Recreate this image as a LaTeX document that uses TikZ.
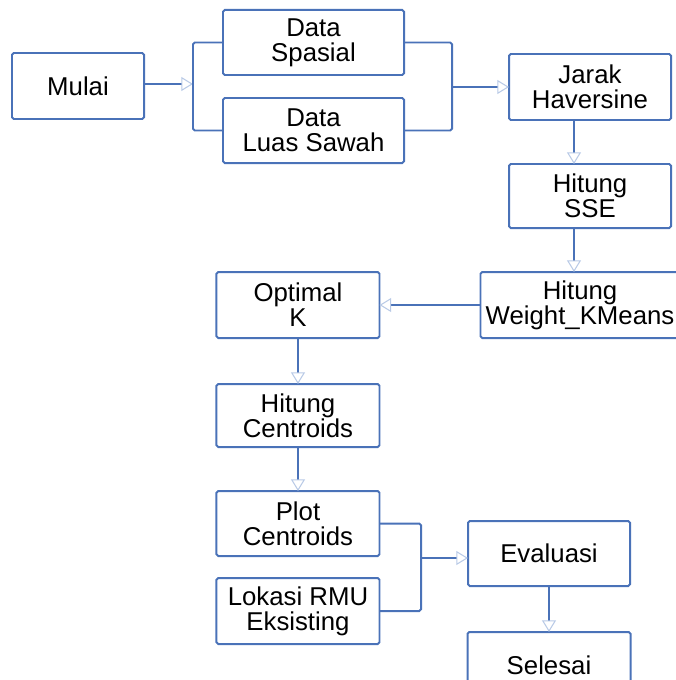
\documentclass[tikz,border=0pt]{standalone}
\usepackage{fontspec}
\setmainfont{Liberation Sans}
\usepackage{xcolor}
\usepackage{tikz}
\usetikzlibrary{arrows.meta,positioning,calc}

\definecolor{flowblue}{HTML}{4A72B8}
\definecolor{tipblue}{HTML}{B9CAE6}

\begin{document}
\begin{tikzpicture}[
    x=0.03cm, y=-0.03cm,
    node distance=1.32cm and 2.64cm,
    stepbox/.style={rectangle, rounded corners=1.5pt, draw=flowblue, line width=1.7pt, outer sep=0pt, align=center, inner xsep=2pt, inner ysep=2pt, font=\fontsize{22}{21.5}\selectfont},
    flowline/.style={draw=flowblue, line width=1.7pt, rounded corners=1.5pt},
    arrow/.style={flowline, -{Triangle[open, length=10pt, width=12pt, line width=0.9pt, color=tipblue]}},
]
\useasboundingbox (0,0) rectangle (675,680);

% Start and input data
\node[stepbox, minimum width=3.96cm, minimum height=1.98cm] (mulai) at (78,86) {Mulai};
\node[stepbox, minimum width=5.43cm, minimum height=1.95cm] (spasial) at (313.5,42.5) {Data\\Spasial};
\node[stepbox, minimum width=5.43cm, minimum height=1.95cm, below=0.69cm of spasial] (luas) {Data\\Luas Sawah};

% Distance and clustering steps
\node[stepbox, minimum width=4.86cm, minimum height=1.98cm] (jarak) at (590,87) {Jarak\\Haversine};
\node[stepbox, minimum width=4.86cm, minimum height=1.92cm, below=1.32cm of jarak] (sse) {Hitung\\SSE};
\node[stepbox, minimum width=5.97cm, minimum height=1.98cm, below=1.32cm of sse, xshift=-0.3cm] (weight) {Hitung\\Weight\_KMeans};
\node[stepbox, minimum width=4.89cm, minimum height=1.98cm, left=3.03cm of weight] (optimal) {Optimal\\K};
\node[stepbox, minimum width=4.89cm, minimum height=1.89cm, below=1.38cm of optimal] (centroids) {Hitung\\Centroids};
\node[stepbox, minimum width=4.89cm, minimum height=1.95cm, below=1.32cm of centroids] (plot) {Plot\\Centroids};
\node[stepbox, minimum width=4.89cm, minimum height=1.98cm, below=0.66cm of plot] (lokasi) {Lokasi RMU\\Eksisting};

% Evaluation and end
\node[stepbox, minimum width=4.86cm, minimum height=1.95cm] (evaluasi) at (549,553.5) {Evaluasi};
\node[stepbox, minimum width=4.89cm, minimum height=1.98cm, below=1.38cm of evaluasi] (selesai) {Selesai};

% Junction points
\coordinate (lbrk) at (193,84);
\coordinate (rbrk) at (452,87);
\coordinate (pbrk) at (421,558);

% Connectors - input data
\draw[arrow] (mulai.east |- lbrk) -- (lbrk);
\draw[flowline] (spasial.west) -| (lbrk) |- (luas.west);
\draw[flowline] (spasial.east) -| (rbrk) |- (luas.east);
\draw[arrow] (rbrk) -- (rbrk -| jarak.west);

% Connectors - clustering
\draw[arrow] ([xshift=-0.48cm]jarak.south) coordinate (j1) -- (j1 |- sse.north);
\draw[arrow] ([xshift=-0.48cm]sse.south) coordinate (s1) -- (s1 |- weight.north);
\draw[arrow] (weight.west) -- (optimal.east);
\draw[arrow] (optimal) -- (centroids);
\draw[arrow] (centroids) -- (plot);

% Connectors - evaluation
\draw[flowline] (plot.east) -| (pbrk) |- (lokasi.east);
\draw[arrow] (pbrk) -- (pbrk -| evaluasi.west);
\draw[arrow] (evaluasi) -- (selesai);

\end{tikzpicture}
\end{document}
